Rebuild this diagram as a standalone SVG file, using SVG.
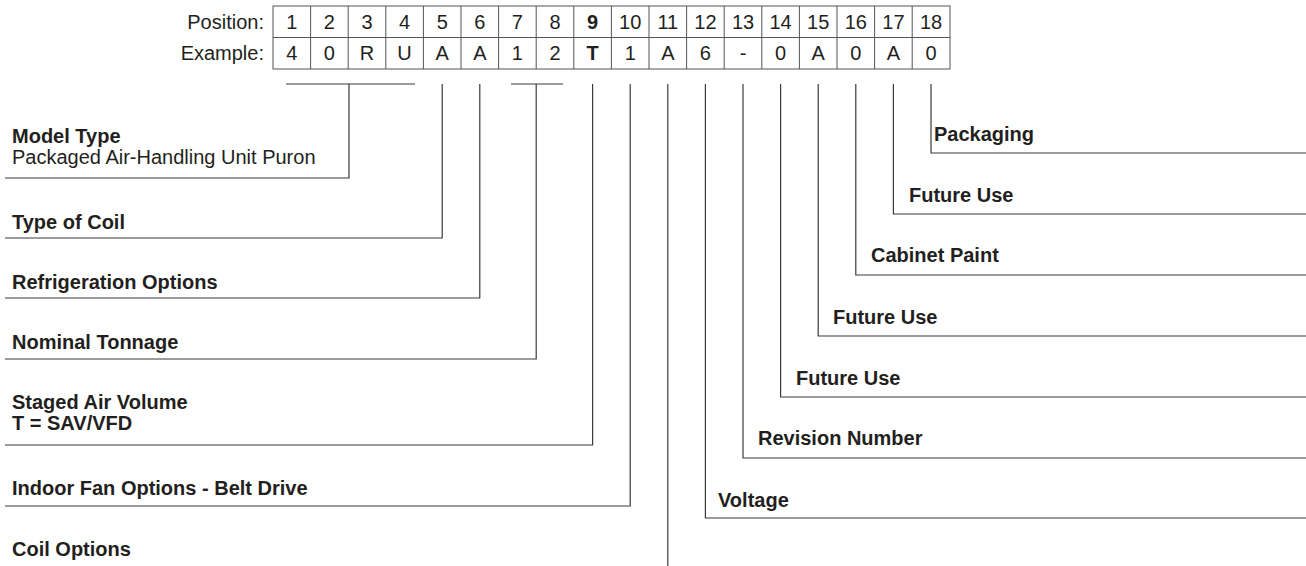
<svg xmlns="http://www.w3.org/2000/svg" width="1306" height="566" viewBox="0 0 1306 566">
<style>
.t{font-family:"Liberation Sans",Arial,sans-serif;font-size:20px;fill:#231f20}
.c{text-anchor:middle}
.r{text-anchor:end}
.b{font-weight:bold}
.grid{fill:none;stroke:#555;stroke-width:1}
.ln{fill:none;stroke:#3a3a3a;stroke-width:1.2}
</style>
<rect width="1306" height="566" fill="#fff"/>
<g id="table">
<text class="t r" x="264" y="29">Position:</text>
<text class="t r" x="264" y="60">Example:</text>
<rect class="grid" x="273" y="6" width="677" height="63"/>
<line class="grid" x1="273" y1="37.5" x2="950" y2="37.5"/>
<path class="grid" d="M310.6 6V69M348.2 6V69M385.8 6V69M423.4 6V69M461 6V69M498.6 6V69M536.2 6V69M573.8 6V69M611.4 6V69M649 6V69M686.6 6V69M724.2 6V69M761.8 6V69M799.4 6V69M837 6V69M874.6 6V69M912.2 6V69"/>
<g class="t c">
<text x="291.8" y="29">1</text><text x="329.4" y="29">2</text><text x="367" y="29">3</text><text x="404.6" y="29">4</text><text x="442.2" y="29">5</text><text x="479.8" y="29">6</text><text x="517.4" y="29">7</text><text x="555" y="29">8</text><text x="592.6" y="29" font-weight="bold">9</text><text x="630.2" y="29">10</text><text x="667.8" y="29">11</text><text x="705.4" y="29">12</text><text x="743" y="29">13</text><text x="780.6" y="29">14</text><text x="818.2" y="29">15</text><text x="855.8" y="29">16</text><text x="893.4" y="29">17</text><text x="931" y="29">18</text>
<text x="291.8" y="60">4</text><text x="329.4" y="60">0</text><text x="367" y="60">R</text><text x="404.6" y="60">U</text><text x="442.2" y="60">A</text><text x="479.8" y="60">A</text><text x="517.4" y="60">1</text><text x="555" y="60">2</text><text x="592.6" y="60" font-weight="bold">T</text><text x="630.2" y="60">1</text><text x="667.8" y="60">A</text><text x="705.4" y="60">6</text><text x="743" y="60">-</text><text x="780.6" y="60">0</text><text x="818.2" y="60">A</text><text x="855.8" y="60">0</text><text x="893.4" y="60">A</text><text x="931" y="60">0</text>
</g>
</g>
<g id="connectors">
<path class="ln" d="M286 84H415M349 84V178H5"/>
<path class="ln" d="M442.2 84V238H5"/>
<path class="ln" d="M479.8 84V298H5"/>
<path class="ln" d="M511 84H563M536.2 84V359H5"/>
<path class="ln" d="M592.6 84V445H5"/>
<path class="ln" d="M630.2 84V506H5"/>
<path class="ln" d="M667.8 84V566"/>
<path class="ln" d="M705.4 84V518H1306"/>
<path class="ln" d="M743 84V458H1306"/>
<path class="ln" d="M780.6 84V397H1306"/>
<path class="ln" d="M818.2 84V336H1306"/>
<path class="ln" d="M855.8 84V275H1306"/>
<path class="ln" d="M893.4 84V214H1306"/>
<path class="ln" d="M931 84V153H1306"/>
</g>
<g id="model-type"><text class="t b" x="12" y="143">Model Type</text><text class="t" x="12" y="164">Packaged Air-Handling Unit Puron</text></g>
<g id="type-of-coil"><text class="t b" x="12" y="229">Type of Coil</text></g>
<g id="refrigeration-options"><text class="t b" x="12" y="289">Refrigeration Options</text></g>
<g id="nominal-tonnage"><text class="t b" x="12" y="349">Nominal Tonnage</text></g>
<g id="staged-air-volume"><text class="t b" x="12" y="409">Staged Air Volume</text><text class="t b" x="12" y="430">T = SAV/VFD</text></g>
<g id="indoor-fan"><text class="t b" x="12" y="495">Indoor Fan Options - Belt Drive</text></g>
<g id="coil-options"><text class="t b" x="12" y="556">Coil Options</text></g>
<g id="voltage"><text class="t b" x="718" y="507">Voltage</text></g>
<g id="revision-number"><text class="t b" x="758" y="445">Revision Number</text></g>
<g id="future-use-14"><text class="t b" x="796" y="385">Future Use</text></g>
<g id="future-use-15"><text class="t b" x="833" y="324">Future Use</text></g>
<g id="cabinet-paint"><text class="t b" x="871" y="262">Cabinet Paint</text></g>
<g id="future-use-17"><text class="t b" x="909" y="202">Future Use</text></g>
<g id="packaging"><text class="t b" x="934" y="141">Packaging</text></g>
</svg>
